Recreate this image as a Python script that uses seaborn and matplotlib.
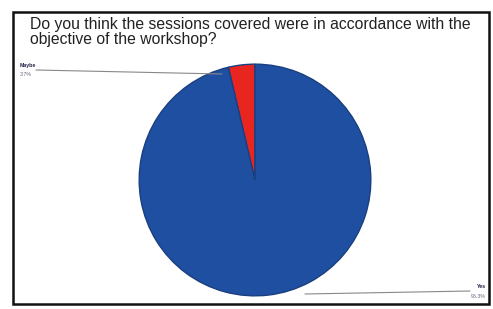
import matplotlib.pyplot as plt
import seaborn as sns
from matplotlib.lines import Line2D
from matplotlib.patches import Rectangle

# данные
answers = ["Maybe", "Yes"]
shares = [3.7, 96.3]
share_labels = ["3.7%", "96.3%"]
colors = ["#e8261f", "#1f4fa0"]

sns.set_theme(style="white")
plt.rcParams['font.family'] = ['Liberation Sans', 'DejaVu Sans']

fig = plt.figure(figsize=(4.93, 3.09), dpi=100)

# рамка вокруг графика
fig.add_artist(Rectangle((13 / 493, 5 / 309), 476 / 493, 292 / 309,
                         transform=fig.transFigure, fill=False,
                         edgecolor="#111111", linewidth=1.8))

fig.text(30 / 493, 1 - 32 / 309,
         "Do you think the sessions covered were in accordance with the\nobjective of the workshop?",
         fontsize=11.3, color="#222222", va="center", ha="left", linespacing=1.08)

ax = fig.add_axes([138 / 493, 12 / 309, 234 / 493, 234 / 309])
ax.pie(shares, colors=colors, startangle=90, counterclock=True,
       wedgeprops=dict(edgecolor="#1a3f80", linewidth=1.0))
ax.set_xlim(-1.01, 1.01)
ax.set_ylim(-1.01, 1.01)
ax.set_aspect("equal")

# подписи с выносками
fig.text(20 / 493, 1 - 67 / 309, answers[0], fontsize=3.8, fontweight="bold", color="#222244")
fig.text(20 / 493, 1 - 76 / 309, share_labels[0], fontsize=3.8, color="#666677")
fig.add_artist(Line2D([36 / 493, 222 / 493], [1 - 70 / 309, 1 - 74 / 309],
                      transform=fig.transFigure, color="#888888", linewidth=0.8))

fig.text(486 / 493, 1 - 288 / 309, answers[1], fontsize=3.8, fontweight="bold", color="#222244", ha="right")
fig.text(486 / 493, 1 - 298 / 309, share_labels[1], fontsize=3.8, color="#666688", ha="right")
fig.add_artist(Line2D([305 / 493, 470 / 493], [1 - 294 / 309, 1 - 291 / 309],
                      transform=fig.transFigure, color="#888888", linewidth=0.8))

fig.savefig("out.png", dpi=100, facecolor="white")
